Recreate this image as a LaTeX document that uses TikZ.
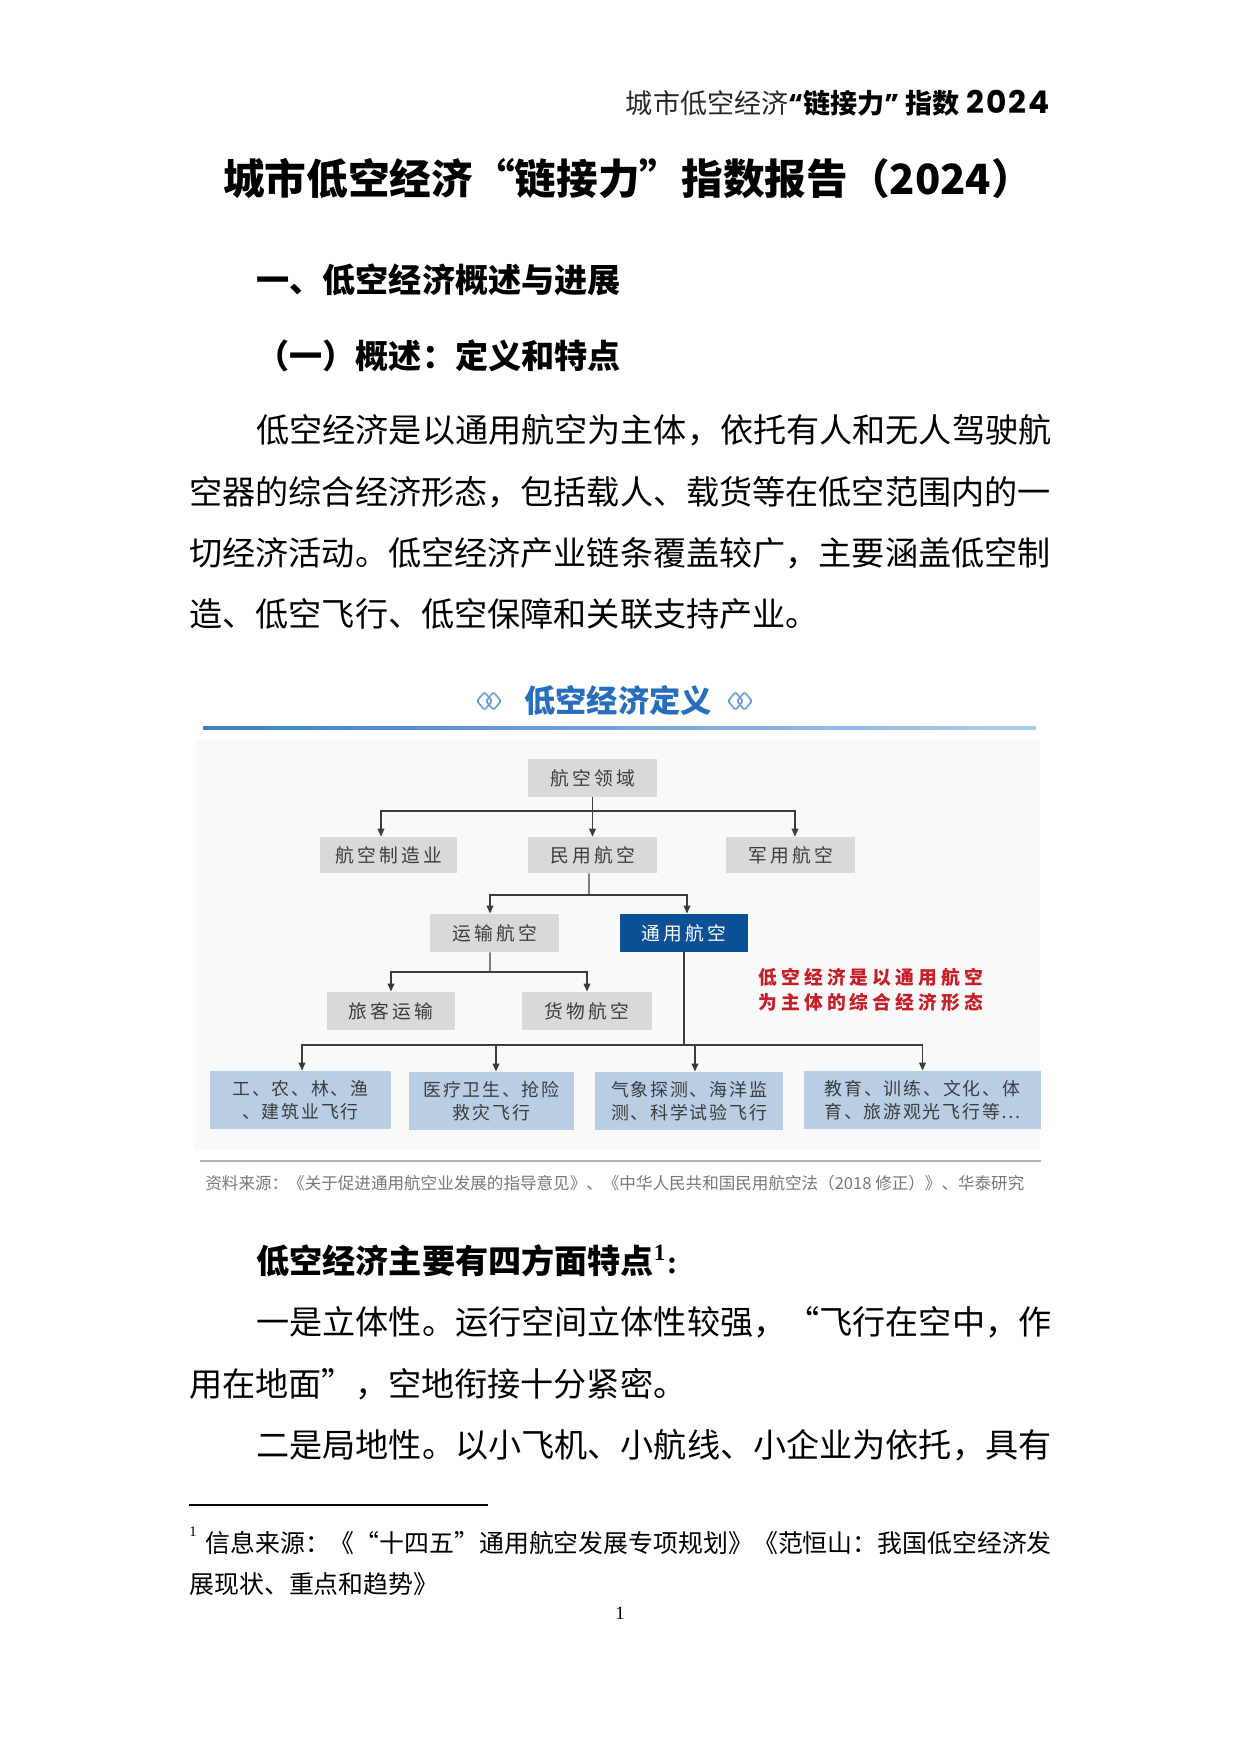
\documentclass[tikz,border=0pt]{standalone}
\usepackage{fontspec}
\setmainfont{Liberation Serif}
\newfontfamily\cjk{Noto Sans CJK SC}
\newfontfamily\cjkbox{Noto Sans CJK SC}[LetterSpace=17]
\newfontfamily\cjkbot{Noto Sans CJK SC}[LetterSpace=10]
\newfontfamily\cjkred{Noto Sans CJK SC}[LetterSpace=22]
\newfontfamily\pop{Poppins}
\newfontfamily\popw{Poppins}[LetterSpace=6]
\usetikzlibrary{arrows.meta}
\definecolor{boxgray}{RGB}{217,217,217}
\definecolor{boxblue}{RGB}{185,205,228}
\definecolor{navy}{RGB}{12,80,150}
\definecolor{ttlblue}{RGB}{40,110,190}
\definecolor{icoblue}{RGB}{110,160,215}
\definecolor{redt}{RGB}{200,30,40}
\definecolor{lncol}{RGB}{60,60,60}
\definecolor{srcgray}{RGB}{120,120,120}
\definecolor{boxtxt}{RGB}{60,60,60}
\definecolor{hdrgray}{RGB}{40,40,40}
\definecolor{lineA}{RGB}{60,125,205}
\definecolor{lineB}{RGB}{170,205,235}
\tikzset{
  body/.style={anchor=west,inner sep=0,font=\cjk\fontsize{15.9pt}{18pt}\selectfont},
  gbox/.style={fill=boxgray,inner sep=0,minimum height=18.24pt,font=\cjkbox\fontsize{9pt}{11pt}\selectfont,text=boxtxt},
  bbox/.style={fill=boxblue,inner sep=0,minimum height=27.84pt,align=center,font=\cjkbot\fontsize{8.6pt}{11pt}\selectfont,text=boxtxt},
  ln/.style={draw=lncol,line width=0.65pt},
  arr/.style={ln,-{Triangle[width=3.2pt,length=3.8pt]}},
  icon/.style={draw=icoblue,line width=0.8pt,rounded corners=0.8pt},
}
\begin{document}
\begin{tikzpicture}[x=0.48pt,y=-0.48pt]
\useasboundingbox (0,0) rectangle (1240,1754);
\fill[white] (0,0) rectangle (1240,1754);

% header
\node[anchor=east,inner sep=0,font=\fontsize{13pt}{15pt}\selectfont] (hdr) at (1050,103)
  {{\cjk\color{hdrgray}城市低空经济}{\pop\bfseries “}{\cjk\bfseries 链接力}{\pop\bfseries ”} {\cjk\bfseries 指数} {\popw\bfseries\fontsize{15pt}{15pt}\selectfont 2024}};

% title
\node[inner sep=0,font=\cjk\bfseries\fontsize{20pt}{24pt}\selectfont] (title) at (628,179) {城市低空经济“链接力”指数报告（2024）};

% headings
\node[body,font=\cjk\bfseries\fontsize{15.9pt}{18pt}\selectfont] (h1) at (256,280) {一、低空经济概述与进展};
\node[body,font=\cjk\bfseries\fontsize{15.9pt}{18pt}\selectfont] (h2) at (256,356) {（一）概述：定义和特点};

% paragraph
\node[body] (p1) at (256,430) {低空经济是以通用航空为主体，依托有人和无人驾驶航};
\node[body] (p2) at (189,492) {空器的综合经济形态，包括载人、载货等在低空范围内的一};
\node[body] (p3) at (189,553) {切经济活动。低空经济产业链条覆盖较广，主要涵盖低空制};
\node[body] (p4) at (189,614) {造、低空飞行、低空保障和关联支持产业。};

% diagram
\fill[black!2.5] (195,740) rectangle (1040,1150);
\shade[left color=lineA,right color=lineB] (203,726.5) rectangle (1036,729.5);
\node[inner sep=0,font=\cjk\bfseries\fontsize{15pt}{18pt}\selectfont,text=ttlblue] (dt) at (618,701) {低空经济定义};
\foreach \c in {489,740}{
  \draw[icon] (\c-4.5,692) -- (\c+3,701) -- (\c-4.5,710) -- (\c-12,701) -- cycle;
  \draw[icon] (\c+4.5,692) -- (\c+12,701) -- (\c+4.5,710) -- (\c-3,701) -- cycle;
}

\node[gbox,minimum width=61.92pt] (A) at (592.5,778) {航空领域};
\node[gbox,minimum width=65.76pt,minimum height=17.28pt] (B1) at (388.5,855) {航空制造业};
\node[gbox,minimum width=61.92pt,minimum height=17.28pt] (B2) at (592.5,855) {民用航空};
\node[gbox,minimum width=61.92pt,minimum height=17.28pt] (B3) at (790.5,855) {军用航空};
\node[gbox,minimum width=61.92pt] (C1) at (494.5,933) {运输航空};
\node[gbox,minimum width=61.44pt,fill=navy,text=white] (C2) at (684,933) {通用航空};
\node[gbox,minimum width=61.44pt] (D1) at (391,1011) {旅客运输};
\node[gbox,minimum width=62.4pt] (D2) at (587,1011) {货物航空};
\node[bbox,minimum width=86.88pt] (E1) at (300.5,1100) {工、农、林、渔\\、建筑业飞行};
\node[bbox,minimum width=79.2pt] (E2) at (491.5,1101) {医疗卫生、抢险\\救灾飞行};
\node[bbox,minimum width=90.24pt] (E3) at (689,1101) {气象探测、海洋监\\测、科学试验飞行};
\node[bbox,minimum width=113.76pt] (E4) at (922.5,1100) {教育、训练、文化、体\\育、旅游观光飞行等…};

\node[anchor=west,inner sep=0,align=left,font=\cjkred\bfseries\fontsize{9pt}{12pt}\selectfont,text=redt] (red) at (758,989.5) {低空经济是以通用航空\\为主体的综合经济形态};

\coordinate (jA) at (592.5,811);
\coordinate (jB) at (589,895);
\coordinate (jC) at (490,972);
\coordinate (jD) at (684,1045);
\draw[ln] (A.south) -- (jA);
\draw[arr] (jA) -| ([xshift=-3.6pt]B1.north);
\draw[arr] (jA) -- (B2.north);
\draw[arr] (jA) -| ([xshift=2.16pt]B3.north);
\draw[ln] ([xshift=-1.68pt]B2.south) -- (jB);
\draw[arr] (jB) -| ([xshift=-2.16pt]C1.north);
\draw[arr] (jB) -| ([xshift=1.44pt]C2.north);
\draw[ln] ([xshift=-2.16pt]C1.south) -- (jC);
\draw[arr] (jC) -| (D1.north);
\draw[arr] (jC) -| (D2.north);
\draw[ln] (C2.south) -- (jD);
\draw[arr] (jD) -| ([xshift=0.72pt]E1.north);
\draw[arr] (jD) -| ([xshift=2.16pt]E2.north);
\draw[arr] (jD) -| ([xshift=2.88pt]E3.north);
\draw[arr] (jD) -| (E4.north);

\draw[draw=black!30,line width=0.7pt] (200,1161) -- (1041,1161);
\node[anchor=west,inner sep=0,font=\cjk\fontsize{7.95pt}{10pt}\selectfont,text=srcgray] (src) at (205,1183) {资料来源：《关于促进通用航空业发展的指导意见》、《中华人民共和国民用航空法（2018 修正）》、华泰研究};

% lower text
\node[body,font=\cjk\bfseries\fontsize{15.9pt}{18pt}\selectfont] (q0) at (256,1261) {低空经济主要有四方面特点\textsuperscript{\rmfamily 1}{\rmfamily\bfseries :}};
\node[body] (q1) at (256,1322) {一是立体性。运行空间立体性较强，“飞行在空中，作};
\node[body] (q2) at (189,1384) {用在地面”，空地衔接十分紧密。};
\node[body] (q3) at (256,1445) {二是局地性。以小飞机、小航线、小企业为依托，具有};

% footnote
\draw[line width=0.5pt] (189,1505) -- (488,1505);
\node[anchor=west,inner sep=0,font=\rmfamily\fontsize{7pt}{8pt}\selectfont] (fnm) at (189,1532) {1};
\node[anchor=west,inner sep=0,font=\cjk\fontsize{11.95pt}{14pt}\selectfont] (fn1) at (205,1543) {信息来源：《“十四五”通用航空发展专项规划》《范恒山：我国低空经济发};
\node[anchor=west,inner sep=0,font=\cjk\fontsize{11.95pt}{14pt}\selectfont] (fn2) at (189,1584) {展现状、重点和趋势》};
\node[inner sep=0,font=\rmfamily\fontsize{9pt}{10pt}\selectfont] (pg) at (620,1613) {1};
\end{tikzpicture}
\end{document}
